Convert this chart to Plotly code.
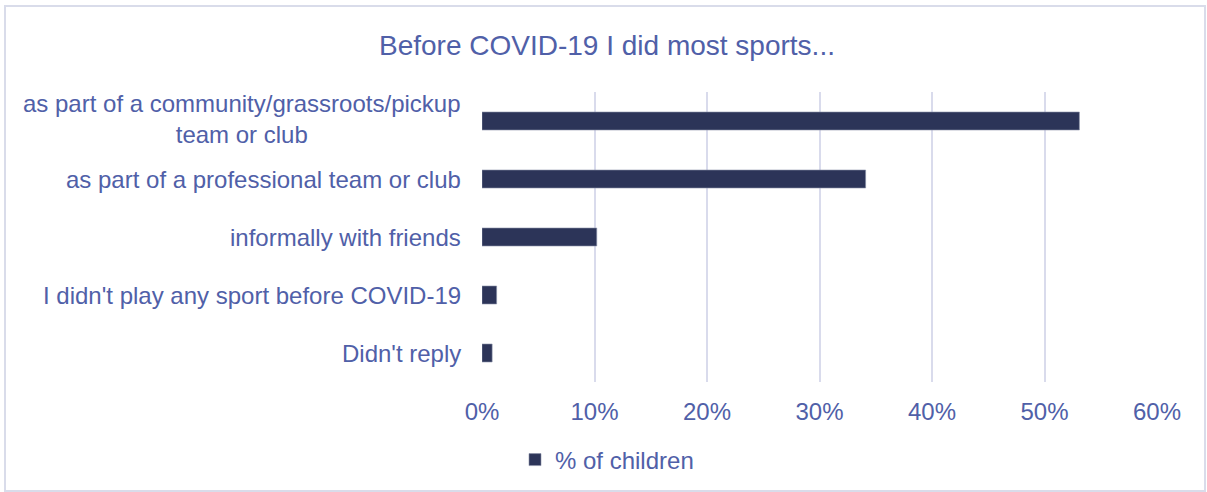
import plotly.graph_objects as go

categories = [
    "as part of a community/grassroots/pickup<br>team or club",
    "as part of a professional team or club",
    "informally with friends",
    "I didn't play any sport before COVID-19",
    "Didn't reply",
]
values = [53.1, 34.1, 10.2, 1.3, 0.9]
series_name = "% of children"
x_ticks = [0, 10, 20, 30, 40, 50, 60]
x_tick_labels = ["0%", "10%", "20%", "30%", "40%", "50%", "60%"]

TEXT = "#5060a8"
BAR = "#2c3458"
GRID = "#d9dbec"
FONT = "Liberation Sans, Arial, sans-serif"

W, H = 1207, 492
L, R, T, B = 482, 50, 92, 110
pw, ph = W - L - R, H - T - B

fig = go.Figure()
fig.add_trace(go.Bar(
    y=categories, x=values, orientation="h", name=series_name,
    marker=dict(color=BAR, line=dict(color="#8a90a8", width=0.6)),
    showlegend=True,
))

annotations = []
for c in categories:
    annotations.append(dict(
        x=0, xref="paper", y=c, yref="y", text=c, showarrow=False,
        xanchor="right", yanchor="middle", align="center", xshift=-19,
        yshift=2 if "<br>" in c else 0,
        font=dict(family=FONT, size=24, color=TEXT),
    ))

def px_x(p):
    return (p - L) / pw

def px_y(p):
    return (H - B - p) / ph

fig.update_layout(
    width=W, height=H,
    margin=dict(l=L, r=R, t=T, b=B, autoexpand=False),
    paper_bgcolor="white", plot_bgcolor="white",
    title=dict(text="Before COVID-19 I did most sports...", x=607 / W, xanchor="center",
               y=1 - 45 / H, yanchor="middle",
               font=dict(family=FONT, size=28, color=TEXT)),
    bargap=0.69,
    xaxis=dict(range=[0, 60], tickvals=x_ticks, ticktext=x_tick_labels,
               showgrid=True, gridcolor=GRID, gridwidth=1.6, zeroline=False,
               showline=False, ticks="", ticklabelstandoff=13,
               tickfont=dict(family=FONT, size=24, color=TEXT)),
    yaxis=dict(categoryorder="array", categoryarray=categories[::-1],
               range=[-0.5, len(categories) - 0.5],
               showticklabels=False, showgrid=False, zeroline=False, showline=False),
    legend=dict(orientation="h", x=px_x(607), xanchor="center", y=px_y(460), yanchor="middle",
                font=dict(family=FONT, size=24, color=TEXT), itemwidth=30),
    annotations=annotations,
    shapes=[dict(type="rect", xref="paper", yref="paper",
                 x0=px_x(5), x1=px_x(1205), y0=px_y(491), y1=px_y(6),
                 line=dict(color="#d9dcea", width=2), fillcolor="rgba(0,0,0,0)", layer="below")],
)

fig.write_html("out.html")
